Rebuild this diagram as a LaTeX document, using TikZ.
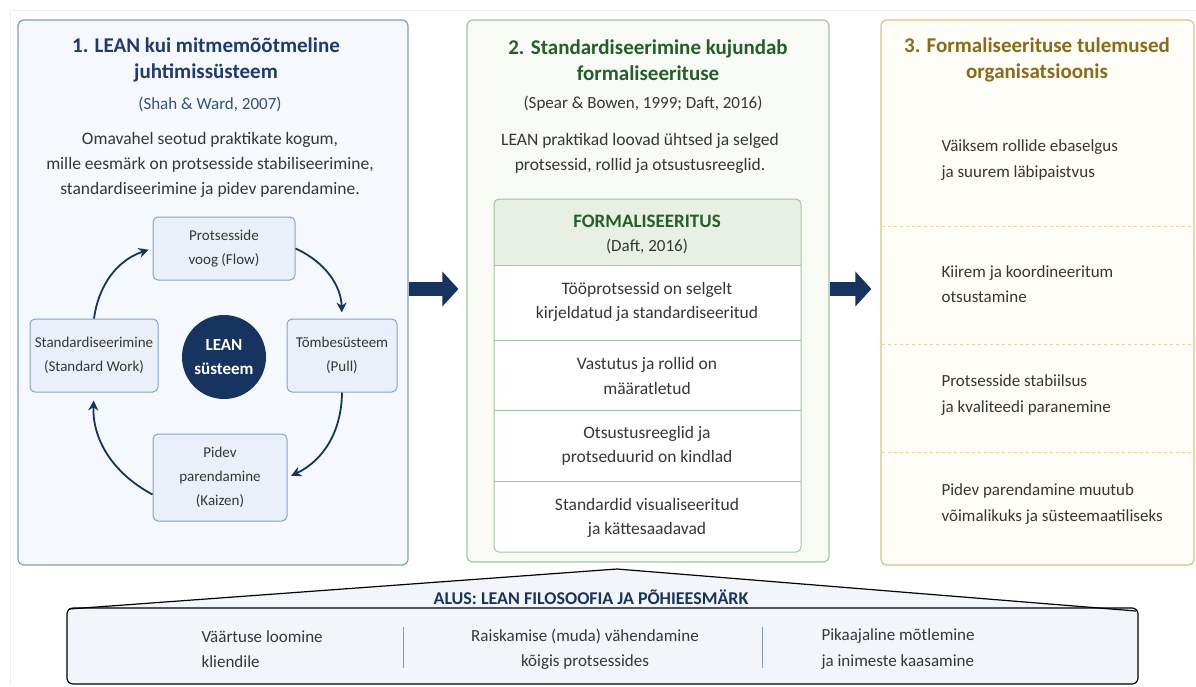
\documentclass[tikz,border=0pt]{standalone}
\usepackage{fontspec}
\setmainfont{Carlito}
\usetikzlibrary{arrows.meta}
\definecolor{navy}{HTML}{17335F}
\definecolor{bluetitle}{HTML}{1F3A70}
\definecolor{bluecite}{HTML}{34507E}
\definecolor{blueline}{HTML}{7F9DC8}
\definecolor{bluefill}{HTML}{F5F8FC}
\definecolor{cycline}{HTML}{86A3CC}
\definecolor{cycfill}{HTML}{E9F0F9}
\definecolor{greentitle}{HTML}{245F2A}
\definecolor{greenline}{HTML}{A3C4A0}
\definecolor{greenfill}{HTML}{F8FAF6}
\definecolor{greenhead}{HTML}{E7F0E3}
\definecolor{goldtitle}{HTML}{8A6B1A}
\definecolor{goldline}{HTML}{DCC27A}
\definecolor{goldfill}{HTML}{FFFDF7}
\definecolor{golddash}{HTML}{E3D3A3}
\definecolor{basefill}{HTML}{F2F6FB}
\definecolor{baseline}{HTML}{4A6DA0}
\definecolor{txt}{HTML}{363636}
\newcommand{\ttlfont}{\fontsize{21}{26}\selectfont\bfseries}
\newcommand{\citefont}{\fontsize{17}{20}\selectfont}
\newcommand{\bodyfont}{\fontsize{17.5}{25}\selectfont}
\newcommand{\cycfont}{\fontsize{15}{24}\selectfont}
\newcommand{\rowfont}{\fontsize{17.5}{24.5}\selectfont}
\newcommand{\resfont}{\fontsize{17}{25.5}\selectfont}
\tikzstyle{panel}=[rounded corners=6pt,line width=1.2pt,inner sep=0pt]
\tikzstyle{cycbox}=[draw=cycline,fill=cycfill,rounded corners=5pt,line width=1pt,align=center,font=\cycfont,text=txt,inner sep=0pt]
\tikzstyle{cycarrow}=[draw=navy,line width=1.8pt,-{Stealth[length=10pt,width=10pt]}]
\tikzstyle{bigarrow}=[draw=navy,line width=14pt,-{Triangle[length=16pt,width=34pt]}]
\tikzstyle{body}=[align=center,font=\bodyfont,text=txt]
\tikzstyle{rowtext}=[align=center,font=\rowfont,text=txt]
\tikzstyle{restext}=[align=left,anchor=west,font=\resfont,text=txt]
\tikzstyle{basetext}=[font=\resfont,text=txt]

\begin{document}
\begin{tikzpicture}[x=1pt,y=-1pt]
\useasboundingbox (0,0) rectangle (1196,686);
\draw[black!7] (10,686) -- (10,10) -- (1196,10);
% panels
\node[panel,draw=blueline,fill=bluefill,minimum width=390pt,minimum height=545pt] (p1) at (213,292.5) {};
\node[panel,draw=greenline,fill=greenfill,minimum width=362pt,minimum height=542pt] (p2) at (648,291) {};
\node[panel,draw=goldline,fill=goldfill,minimum width=313pt,minimum height=545pt] (p3) at (1037.5,292.5) {};
% panel 1
\node[align=center,font=\ttlfont,text=bluetitle] (t1) at (206,60) {1. LEAN kui mitmemõõtmeline\\juhtimissüsteem};
\node[font=\citefont,text=bluecite] (c1) at (210,104) {(Shah \& Ward, 2007)};
\node[body] (b1) at (210,165) {Omavahel seotud praktikate kogum,\\mille eesmärk on protsesside stabiliseerimine,\\standardiseerimine ja pidev parendamine.};
\node[cycbox,minimum width=142pt,minimum height=63pt] (flow) at (224,248.5) {Protsesside\\voog (Flow)};
\node[cycbox,minimum width=128pt,minimum height=73pt] (std) at (94,355.5) {Standardiseerimine\\(Standard Work)};
\node[cycbox,minimum width=110pt,minimum height=73pt] (pull) at (342,355.5) {Tõmbesüsteem\\(Pull)};
\node[cycbox,minimum width=134pt,minimum height=87pt] (kaizen) at (220,477.5) {Pidev\\parendamine\\(Kaizen)};
\node[circle,fill=navy,minimum size=84pt,inner sep=0pt,align=center,text=white,font=\fontsize{17}{24}\selectfont\bfseries] (lean) at (224,357) {LEAN\\süsteem};
\draw[cycarrow,shorten >=4pt] (std.north) to[bend left=32] (flow.west);
\draw[cycarrow,shorten >=6pt] (flow.east) to[bend left=32] (pull.north);
\draw[cycarrow,shorten >=4pt] (pull.south) to[bend left=32] (kaizen.east);
\draw[cycarrow,shorten >=8pt] ([yshift=-17pt]kaizen.west) to[bend left=32] (std.south);
% panel 2
\node[align=center,font=\ttlfont,text=greentitle] (t2) at (648,60) {2. Standardiseerimine kujundab\\formaliseerituse};
\node[font=\citefont,text=txt] (c2) at (643,104) {(Spear \& Bowen, 1999; Daft, 2016)};
\node[body] (b2) at (640,153) {LEAN praktikad loovad ühtsed ja selged\\protsessid, rollid ja otsustusreeglid.};
\fill[greenhead,rounded corners=5pt] (494,199) rectangle (801,265);
\fill[greenhead] (494,240) rectangle (801,265);
\fill[white] (494,265) rectangle (801,540);
\fill[white,rounded corners=5pt] (494,520) rectangle (801,552);
\draw[greenline,line width=1pt,rounded corners=5pt] (494,199) rectangle (801,552);
\foreach \y in {265,340,410,481}
  \draw[greenline,line width=1pt] (494,\y) -- (801,\y);
\node[font=\fontsize{19}{22}\selectfont\bfseries,text=greentitle] (frm) at (647,221) {FORMALISEERITUS};
\node[font=\citefont,text=txt] (frmcite) at (647,246) {(Daft, 2016)};
\node[rowtext] (r1) at (647,302) {Tööprotsessid on selgelt\\kirjeldatud ja standardiseeritud};
\node[rowtext] (r2) at (647,376) {Vastutus ja rollid on\\määratletud};
\node[rowtext] (r3) at (647,446) {Otsustusreeglid ja\\protseduurid on kindlad};
\node[rowtext] (r4) at (647,518) {Standardid visualiseeritud\\ja kättesaadavad};
% panel 3
\node[align=center,font=\ttlfont,text=goldtitle] (t3) at (1037,60) {3. Formaliseerituse tulemused\\organisatsioonis};
\foreach \y in {226,344,452}
  \draw[golddash,dashed,line width=0.8pt] (882,\y) -- (1193,\y);
\node[restext] (e1) at (938,160) {Väiksem rollide ebaselgus\\ja suurem läbipaistvus};
\node[restext] (e2) at (938,284) {Kiirem ja koordineeritum\\otsustamine};
\node[restext] (e3) at (938,395) {Protsesside stabiilsus\\ja kvaliteedi paranemine};
\node[restext] (e4) at (938,504) {Pidev parendamine muutub\\võimalikuks ja süsteemaatiliseks};
% big arrows
\draw[bigarrow,shorten >=8pt] (p1.east |- 0,289) -- (p2.west |- 0,289);
\draw[bigarrow,shorten >=9pt] (p2.east |- 0,289) -- (p3.west |- 0,289);
% base
\fill[basefill] (67,610) -- (617,569) -- (1138,612) -- cycle;
\draw[baseline,line width=1.2pt,fill=basefill,rounded corners=6pt] (67,608) rectangle (1138,684);
\draw[baseline,line width=1.2pt,line join=round] (69,609) -- (617,569) -- (1136,611);
\node[anchor=base,font=\fontsize{18}{20}\selectfont\bfseries,text=navy] (alus) at (591,604) {ALUS: LEAN FILOSOOFIA JA PÕHIEESMÄRK};
\node[basetext,align=left,anchor=west] (v1) at (198,649) {Väärtuse loomine\\kliendile};
\node[basetext,align=center] (v2) at (585,649) {Raiskamise (muda) vähendamine\\kõigis protsessides};
\node[basetext,align=left,anchor=west] (v3) at (818,649) {Pikaajaline mõtlemine\\ja inimeste kaasamine};
\draw[baseline!70,line width=1pt] (403,627) -- (403,668);
\draw[baseline!70,line width=1pt] (762,627) -- (762,668);
\end{tikzpicture}
\end{document}
